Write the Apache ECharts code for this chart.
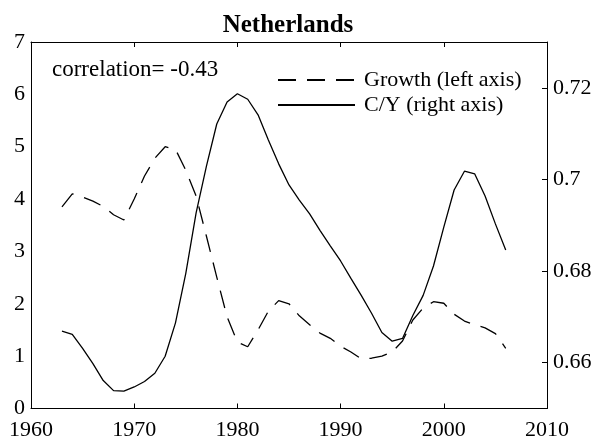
<!DOCTYPE html>
<html>
<head>
<meta charset="utf-8">
<script src="https://cdn.jsdelivr.net/npm/echarts@6/dist/echarts.min.js"></script>
<style>html,body{margin:0;padding:0;background:#fff}#c{width:600px;height:443px}</style>
</head>
<body>
<div id="c"></div>
<script>
var years = [1963,1964,1965,1966,1967,1968,1969,1970,1971,1972,1973,1974,1975,1976,1977,1978,1979,1980,1981,1982,1983,1984,1985,1986,1987,1988,1989,1990,1991,1992,1993,1994,1995,1996,1997,1998,1999,2000,2001,2002,2003,2004,2005,2006];
var growth = [3.85,4.10,4.04,3.96,3.86,3.70,3.60,4.00,4.44,4.78,5.00,4.95,4.55,4.06,3.29,2.51,1.75,1.27,1.18,1.50,1.86,2.06,2.00,1.77,1.60,1.44,1.34,1.19,1.08,0.95,0.96,1.00,1.08,1.29,1.69,1.92,2.04,2.01,1.80,1.67,1.60,1.54,1.43,1.15];
var cy = [0.6669,0.6662,0.6631,0.6598,0.6561,0.6539,0.6538,0.6547,0.6559,0.6577,0.6614,0.6687,0.6795,0.6927,0.7029,0.7121,0.7169,0.7187,0.7175,0.7141,0.7086,0.7034,0.6988,0.6955,0.6925,0.6889,0.6855,0.6822,0.6784,0.6747,0.6708,0.6666,0.6647,0.6653,0.6703,0.6747,0.6811,0.6896,0.6977,0.7018,0.7012,0.6964,0.6903,0.6846];
var rightTicks = [0.66,0.68,0.70,0.72];
var titleText = 'Netherlands';
var corrText = 'correlation= -0.43';
var names = ['Growth (left axis)','C/Y (right axis)'];

var F = 'Liberation Serif, Times New Roman, serif';
var chart = echarts.init(document.getElementById('c'), null, {renderer:'canvas'});
function pairs(xs, ys){ return xs.map(function(x,i){return [x, ys[i]];}); }
var axisLine = {show:true, lineStyle:{color:'#000', width:1}};
chart.setOption({
  animation:false,
  backgroundColor:'#fff',
  grid:{left:31, right:53, top:42, bottom:34.5, containLabel:false},
  graphic:[
    {type:'text', x:288, y:26, style:{text:titleText, font:'bold 25px '+F, fill:'#000', align:'center', verticalAlign:'middle'}},
    {type:'text', x:52, y:70, style:{text:corrText, font:'23px '+F, fill:'#000', align:'left', verticalAlign:'middle'}}
  ],
  legend:{
    orient:'vertical', left:277, top:69, padding:0, itemWidth:77, itemHeight:14, itemGap:3,
    itemStyle:{opacity:0},
    textStyle:{fontFamily:F, fontSize:22, color:'#000', padding:[0,0,0,4]},
    data:names
  },
  xAxis:[
    {type:'value', min:1960, max:2010, interval:10, position:'bottom',
     axisLine:axisLine, axisTick:{show:true, inside:true, length:5, lineStyle:{color:'#000'}},
     axisLabel:{fontFamily:F, fontSize:22, color:'#000', margin:11, formatter:function(v){return String(v);}}, splitLine:{show:false}},
    {type:'value', min:1960, max:2010, interval:10, position:'top',
     axisLine:axisLine, axisTick:{show:true, inside:true, length:5, lineStyle:{color:'#000'}},
     axisLabel:{show:false}, splitLine:{show:false}}
  ],
  yAxis:[
    {type:'value', min:0, max:7, interval:1, position:'left',
     axisLine:axisLine, axisTick:{show:false},
     axisLabel:{fontFamily:F, fontSize:22, color:'#000', margin:6}, splitLine:{show:false}},
    {type:'value', min:0.65, max:0.73, position:'right',
     axisLine:axisLine,
     axisTick:{show:true, inside:true, length:5, lineStyle:{color:'#000'}, customValues:rightTicks},
     axisLabel:{fontFamily:F, fontSize:22, color:'#000', margin:6, customValues:rightTicks,
       formatter:function(v){return String(+v.toFixed(2));}},
     splitLine:{show:false}}
  ],
  series:[
    {name:names[0], type:'line', xAxisIndex:0, yAxisIndex:0, data:pairs(years,growth),
     symbol:'none', lineStyle:{color:'#000', width:1.3, type:[18,11]}, itemStyle:{color:'#000'}},
    {name:names[1], type:'line', xAxisIndex:0, yAxisIndex:1, data:pairs(years,cy),
     symbol:'none', lineStyle:{color:'#000', width:1.3}, itemStyle:{color:'#000'}}
  ]
});
</script>
</body>
</html>
